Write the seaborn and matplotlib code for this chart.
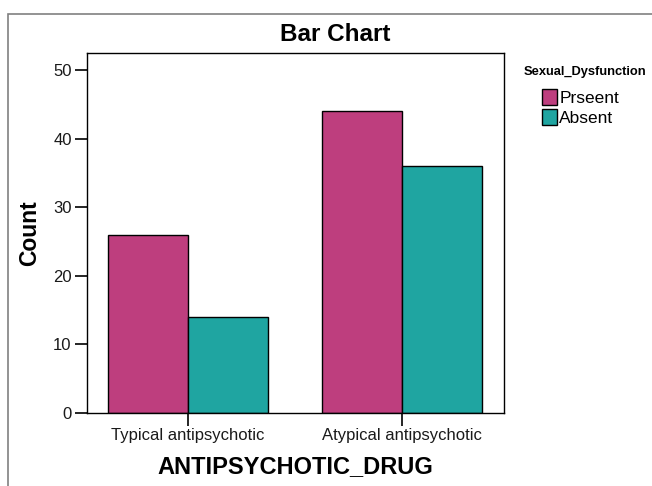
import numpy as np
import pandas as pd
import seaborn as sns
import matplotlib.pyplot as plt
from matplotlib.patches import Rectangle

drugs = ['Typical antipsychotic', 'Atypical antipsychotic']
groups = ['Prseent', 'Absent']
present_counts = [26, 44]
absent_counts = [14, 36]

df = pd.DataFrame({
    'ANTIPSYCHOTIC_DRUG': drugs * 2,
    'Sexual_Dysfunction': [groups[0]] * 2 + [groups[1]] * 2,
    'Count': present_counts + absent_counts,
})

sns.set_theme(style='white')
plt.rcParams['font.family'] = ['Liberation Sans', 'DejaVu Sans']
plt.rcParams['text.color'] = 'black'

fig = plt.figure(figsize=(6.52, 4.86), dpi=100)
ax = fig.add_axes([87/652, 1 - 413/486, (504-87)/652, (413-53)/486])

# outer frame like the SPSS output
fig.patches.append(Rectangle((8/652, -0.1), 1.2, 1.1 - 14/486, transform=fig.transFigure,
                             fill=False, edgecolor='#808080', linewidth=1.2))

pal = {'Prseent': '#BE3E7E', 'Absent': '#1FA5A1'}
sns.barplot(data=df, x='ANTIPSYCHOTIC_DRUG', y='Count', hue='Sexual_Dysfunction',
            palette=pal, saturation=1, width=0.75, edgecolor='black', linewidth=1.0, ax=ax)

ax.set_xlim(-0.472, 1.477)
ax.set_ylim(0, 52.5)
ax.set_yticks([0, 10, 20, 30, 40, 50])
for s in ax.spines.values():
    s.set_color('black')
    s.set_linewidth(1.0)
ax.tick_params(axis='both', which='both', direction='out', length=9, width=1.2,
               color='black', labelsize=12, labelcolor='#1a1a1a', pad=2, left=True, bottom=True)
ax.set_xlabel('ANTIPSYCHOTIC_DRUG', fontsize=17, fontweight='bold', color='black')
ax.xaxis.set_label_coords(0.5, -0.118)
ax.set_ylabel('Count', fontsize=16.5, fontweight='bold', color='black')
ax.yaxis.set_label_coords(-0.110, 0.5)
ax.set_title('')
fig.text(335/652, 1 - 41/486, 'Bar Chart', fontsize=17.5, fontweight='bold',
         color='black', ha='center', va='baseline')

leg = ax.legend(loc='upper left', bbox_to_anchor=(542/652, 1 - 89/486),
                bbox_transform=fig.transFigure, frameon=False, fontsize=12.5,
                handlelength=0.85, handleheight=1.0, handletextpad=0.15,
                labelspacing=0.2, borderpad=0, borderaxespad=0)
for h in leg.legend_handles:
    h.set_edgecolor('black')
for t in leg.get_texts():
    t.set_color('black')
fig.text(524/652, 1 - 72/486, 'Sexual_Dysfunction', fontsize=9.3, fontweight='bold',
         color='black', ha='left', va='center')

fig.savefig('out.png', dpi=100)
